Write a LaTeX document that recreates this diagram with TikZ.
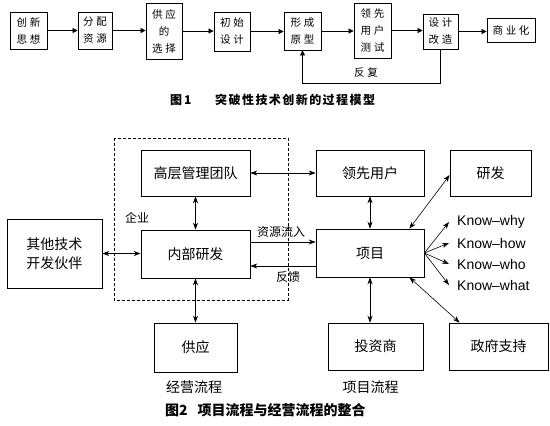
\documentclass[tikz,border=0pt]{standalone}
\usepackage{fontspec}
\setmainfont{Noto Sans CJK SC}
\newfontfamily\spaced[LetterSpace=25]{Noto Sans CJK SC}
\newfontfamily\capspaced[LetterSpace=12]{Noto Sans CJK SC}
\newfontfamily\latin{Liberation Sans}
\usetikzlibrary{arrows.meta}

\tikzset{
  stepbox/.style={draw,line width=0.8pt,inner sep=0pt,align=center,
    font=\spaced\fontsize{10.5}{17}\selectfont},
  blockbox/.style={draw,line width=0.7pt,inner sep=0pt,align=center,
    font=\fontsize{14}{19}\selectfont},
  flow/.style={-{Triangle[length=5pt,width=5pt]},line width=0.7pt},
  link/.style={{Stealth[length=7pt,width=5pt]}-{Stealth[length=7pt,width=5pt]},line width=0.6pt},
  oneway/.style={-{Stealth[length=7pt,width=5pt]},line width=0.6pt},
  know/.style={anchor=west,inner sep=0pt,inner xsep=8pt,font=\latin\fontsize{14}{16}\selectfont},
  note/.style={inner sep=0pt,font=\fontsize{12}{14}\selectfont},
  bignote/.style={inner sep=0pt,font=\fontsize{14}{16}\selectfont},
}

\begin{document}
\begin{tikzpicture}[x=1pt,y=-1pt]
  \useasboundingbox (0,0) rectangle (550,426);

  \node[stepbox,minimum width=37pt,minimum height=37pt] (idea) at (28.5,30.5) {创新\\思想};
  \node[stepbox,minimum width=34pt,minimum height=37pt] (alloc) at (95,30.5) {分配\\资源};
  \node[stepbox,minimum width=36pt,minimum height=56pt] (choice) at (164,31) {供应\\的\\选择};
  \node[stepbox,minimum width=36pt,minimum height=39pt] (design) at (232,31.5) {初始\\设计};
  \node[stepbox,minimum width=37pt,minimum height=38pt] (proto) at (302.5,31) {形成\\原型};
  \node[stepbox,minimum width=37pt,minimum height=55pt] (test) at (372.5,30.5) {领先\\用户\\测试};
  \node[stepbox,minimum width=35pt,minimum height=35pt] (redo) at (440.5,31.5) {设计\\改造};
  \node[stepbox,minimum width=48pt,minimum height=24pt] (market) at (511,30) {商业化};
  \foreach \a/\b in {idea/alloc,alloc/choice,choice/design,design/proto,proto/test,test/redo,redo/market}
    \draw[flow] (\a.east) -- (\a.east -| \b.west);
  \coordinate (back) at (0,83);
  \draw[flow] (redo.south) -- (redo.south |- back) -| (proto.south);
  \node[inner sep=0pt,font=\spaced\fontsize{10.5}{12}\selectfont] (again) at (366,73) {反复};
  \node[anchor=west,inner sep=0pt,font=\bfseries\fontsize{12}{14}\selectfont] (fig1) at (170,100) {图\,1};
  \node[anchor=west,inner sep=0pt,font=\capspaced\bfseries\fontsize{12}{14}\selectfont] (title1) at (215,100) {突破性技术创新的过程模型};

  \draw[dashed,dash pattern=on 3pt off 2pt,line width=0.6pt] (114,138) rectangle (288,300);
  \node[blockbox,minimum width=109pt,minimum height=46pt] (top) at (195.5,173) {高层管理团队};
  \node[blockbox,minimum width=109pt,minimum height=48pt] (inner) at (195.5,254) {内部研发};
  \node[blockbox,minimum width=95pt,minimum height=69pt] (partner) at (54.5,253.5) {其他技术\\开发伙伴};
  \node[blockbox,minimum width=108pt,minimum height=46pt] (lead) at (370,173) {领先用户};
  \node[blockbox,minimum width=81pt,minimum height=46pt] (rd) at (490.5,173) {研发};
  \node[blockbox,minimum width=108pt,minimum height=48pt] (proj) at (370,253) {项目};
  \node[blockbox,minimum width=95pt,minimum height=47pt] (invest) at (375.5,346.5) {投资商};
  \node[blockbox,minimum width=99pt,minimum height=47pt] (gov) at (498.5,346.5) {政府支持};
  \node[blockbox,minimum width=83pt,minimum height=49pt] (supply) at (195.5,347.5) {供应};

  \node[know] (kwhy) at (449,222) {Know–why};
  \node[know] (khow) at (449,243) {Know–how};
  \node[know] (kwho) at (449,264) {Know–who};
  \node[know] (kwhat) at (449,285) {Know–what};
  \foreach \k in {kwhy,khow,kwho,kwhat}
    \draw[oneway] (proj.east) -- (\k.west);

  \draw[link] (top) -- (inner);
  \draw[link] (inner) -- (supply);
  \draw[link] (top) -- (lead);
  \draw[link] (partner.east) -- (partner.east -| inner.west);
  \draw[link] (lead) -- (proj);
  \draw[link] (proj.south) -- (proj.south |- invest.north);
  \draw[link] ([xshift=-15pt]proj.north east) -- ([yshift=-2pt]rd.west);
  \draw[link] ([xshift=-15pt]proj.south east) -- ([xshift=11pt]gov.north west);
  \draw[oneway] ([yshift=12pt]inner.east) -- ([yshift=12pt]inner.east -| proj.west);
  \draw[oneway] ([yshift=-12pt]inner.east -| proj.west) -- ([yshift=-12pt]inner.east);

  \node[note] (firm) at (137,218) {企业};
  \node[note] (inflow) at (281,232) {资源流入};
  \node[note] (fb) at (288,277) {反馈};
  \node[bignote] (opflow) at (194,387) {经营流程};
  \node[bignote] (pjflow) at (370.5,387) {项目流程};
  \node[anchor=west,inner sep=0pt,font=\bfseries\fontsize{14}{16}\selectfont] (fig2) at (165,410) {图2\hspace{10pt}项目流程与经营流程的整合};
\end{tikzpicture}
\end{document}
